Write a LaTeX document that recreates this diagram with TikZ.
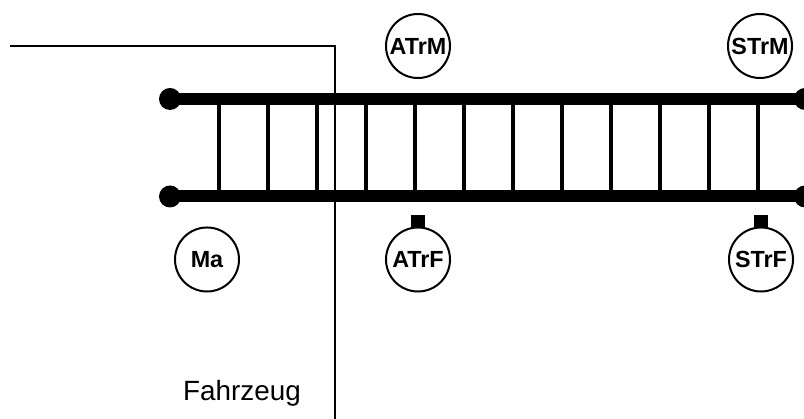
\documentclass[tikz,border=0pt]{standalone}
\usepackage{fontspec}
\setmainfont{Liberation Sans}
\tikzset{
  stn/.style={circle, draw, line width=.05cm, minimum size=1.6cm, inner sep=0pt, font=\fontsize{16.6}{18}\selectfont\bfseries},
  dot/.style={circle, fill, minimum size=.55cm, inner sep=0pt},
  rail/.style={line width=.3cm},
  rung/.style={line width=.1cm},
  border/.style={line width=.05cm},
  tick/.style={fill, minimum width=.33cm, minimum height=.3cm, inner sep=0pt}
}
\begin{document}
\begin{tikzpicture}[x=.025cm, y=.025cm]
    \useasboundingbox (0,0) rectangle (804,419);
    % rails
    \node[dot] (topl) at (170,320) {};
    \node[dot] (topr) at (805,320) {};
    \node[dot] (botl) at (170,222.5) {};
    \node[dot] (botr) at (805,222.5) {};
    \draw[rail] (topl.center) -- (topr.center);
    \draw[rail] (botl.center) -- (botr.center);
    % rungs
    \foreach \i in {0,...,11} {
        \coordinate (t\i) at (218.5+49*\i,320);
        \coordinate (b\i) at (218.5+49*\i,222.5);
        \draw[rung] (t\i) -- (b\i);
    }
    % vehicle border
    \coordinate (start) at (10,373);
    \coordinate (corner) at (335,373);
    \coordinate (end) at (335,0);
    \draw[border] (start) -- (corner) -- (end);
    \node (fz) at (242,26) {\fontsize{19.8}{22}\selectfont Fahrzeug};
    % stations
    \node[stn] (atrm) at (418,373) {ATrM};
    \node[stn] (strm) at (760,373) {STrM};
    \node[stn] (ma) at (207,159.5) {Ma};
    \node[stn] (atrf) at (418,159.5) {ATrF};
    \node[stn] (strf) at (761,159.5) {STrF};
    \node[tick, anchor=south, yshift=-.03cm] (tk1) at (atrf.north) {};
    \node[tick, anchor=south, yshift=-.03cm] (tk2) at (strf.north) {};
\end{tikzpicture}
\end{document}
